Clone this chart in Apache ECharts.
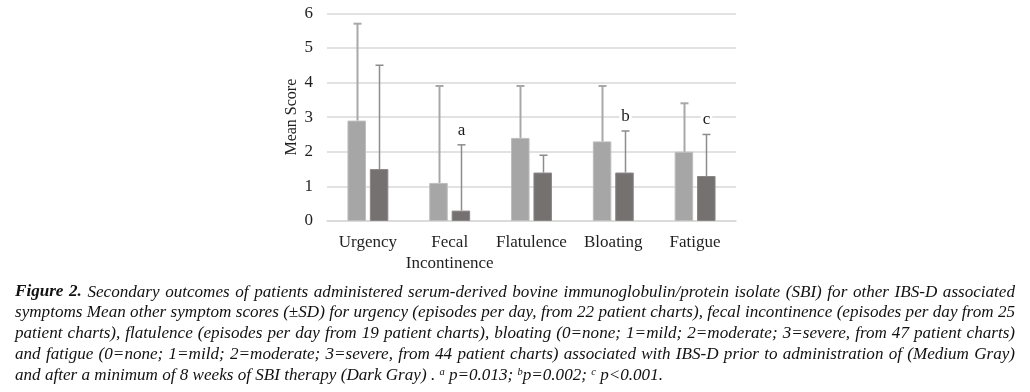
<!DOCTYPE html>
<html>
<head>
<meta charset="utf-8">
<script src="https://cdn.jsdelivr.net/npm/echarts@6/dist/echarts.min.js"></script>
<style>
html,body{margin:0;padding:0;background:#fff;}
#chart{width:1030px;height:392px;}
</style>
</head>
<body>
<div id="chart"></div>
<script>
const categories = ['Urgency', 'Fecal\nIncontinence', 'Flatulence', 'Bloating', 'Fatigue'];
const beforeMean = [2.9, 1.1, 2.4, 2.3, 2.0];
const beforeTop = [5.7, 3.9, 3.9, 3.9, 3.4];
const afterMean = [1.5, 0.3, 1.4, 1.4, 1.3];
const afterTop = [4.5, 2.2, 1.9, 2.6, 2.5];
const annotations = ['', 'a', '', 'b', 'c'];
const yTicks = [0, 1, 2, 3, 4, 5, 6];

const captionJustified = [
  'Figure 2. Secondary outcomes of patients administered serum-derived bovine immunoglobulin/protein isolate (SBI) for other IBS-D associated',
  'symptoms Mean other symptom scores (±SD) for urgency (episodes per day, from 22 patient charts), fecal incontinence (episodes per day from 25',
  'patient charts), flatulence (episodes per day from 19 patient charts), bloating (0=none; 1=mild; 2=moderate; 3=severe, from 47 patient charts)',
  'and fatigue (0=none; 1=mild; 2=moderate; 3=severe, from 44 patient charts) associated with IBS-D prior to administration of (Medium Gray)'
];
const captionLast = 'and after a minimum of 8 weeks of SBI therapy (Dark Gray) . {s|a} p=0.013; {s|b}p=0.002; {s|c} p<0.001.';
const boldWords = 2;

const BAR_W = 18.5;
const OFFSET = 11.2;
const serif = '"Liberation Serif", "Times New Roman", serif';
const CAP_SIZE = 17.1;
const CAP_LEFT = 15, CAP_RIGHT = 1015, CAP_TOP = 292, CAP_LH = 20.8;

function errSeries(name, mean, top, sign, color, lw, labels) {
  return {
    type: 'custom',
    name: name,
    z: 5,
    data: mean.map((m, i) => [i, m, top[i]]),
    renderItem: function (params, api) {
      const i = api.value(0);
      const base = api.coord([i, api.value(1)]);
      const tp = api.coord([i, api.value(2)]);
      const x = Math.round(base[0] + sign * OFFSET) + 0.5;
      const children = [
        {type: 'line', shape: {x1: x, y1: base[1], x2: x, y2: tp[1]}, style: {stroke: color, lineWidth: lw}},
        {type: 'line', shape: {x1: x - 4, y1: tp[1], x2: x + 4, y2: tp[1]}, style: {stroke: color, lineWidth: lw}}
      ];
      if (labels && labels[params.dataIndex]) {
        children.push({type: 'text', x: x, y: tp[1] - 6, style: {
          text: labels[params.dataIndex], fill: '#1a1a1a', font: '17px ' + serif,
          align: 'center', verticalAlign: 'bottom', backgroundColor: '#fff', padding: [0, 2]
        }});
      }
      return {type: 'group', children: children};
    }
  };
}

// Justified caption: measure words, distribute spacing
const mctx = document.createElement('canvas').getContext('2d');
function fontFor(bold) { return 'italic ' + (bold ? 'bold ' : '') + CAP_SIZE + 'px ' + serif; }
const graphics = [];
captionJustified.forEach((line, k) => {
  const words = line.split(' ');
  const widths = words.map((w, j) => {
    const bold = (k === 0 && j < boldWords);
    mctx.font = fontFor(bold);
    return mctx.measureText(w).width;
  });
  const total = widths.reduce((a, b) => a + b, 0);
  const gap = (CAP_RIGHT - CAP_LEFT - total) / (words.length - 1);
  let x = CAP_LEFT;
  words.forEach((w, j) => {
    const bold = (k === 0 && j < boldWords);
    graphics.push({
      type: 'text', x: x, y: CAP_TOP + k * CAP_LH,
      style: {text: w, font: fontFor(bold), fill: '#111', verticalAlign: 'middle'}
    });
    x += widths[j] + gap;
  });
});
graphics.push({
  type: 'text', x: CAP_LEFT, y: CAP_TOP + 4 * CAP_LH,
  style: {
    text: captionLast, font: fontFor(false), fill: '#111', verticalAlign: 'middle',
    rich: {s: {fontSize: 10.5, fontStyle: 'italic', fontFamily: serif, fill: '#111', verticalAlign: 'top'}}
  }
});

const chart = echarts.init(document.getElementById('chart'));
chart.setOption({
  animation: false,
  backgroundColor: '#fff',
  grid: {left: 327, right: 294, top: 13.3, bottom: 171, containLabel: false},
  xAxis: {
    type: 'category',
    data: categories,
    axisLine: {show: true, lineStyle: {color: '#d9d9d9', width: 1.5}},
    axisTick: {show: false},
    axisLabel: {color: '#1f1f1f', fontFamily: serif, fontSize: 17, margin: 11, lineHeight: 21, interval: 0}
  },
  yAxis: {
    type: 'value',
    min: yTicks[0], max: yTicks[yTicks.length - 1], interval: 1,
    name: 'Mean Score',
    nameLocation: 'middle',
    nameGap: 27,
    nameRotate: 90,
    nameTextStyle: {color: '#1f1f1f', fontFamily: serif, fontSize: 16},
    axisLine: {show: false},
    axisTick: {show: false},
    axisLabel: {color: '#1f1f1f', fontFamily: serif, fontSize: 17, margin: 14},
    splitLine: {lineStyle: {color: '#d9d9d9', width: 1.5}}
  },
  series: [
    {type: 'bar', name: 'Before', data: beforeMean, barWidth: BAR_W, barGap: '21%',
     itemStyle: {color: '#a6a6a6', borderColor: '#bdbdbd', borderWidth: 1}},
    {type: 'bar', name: 'After', data: afterMean, barWidth: BAR_W,
     itemStyle: {color: '#767171', borderColor: '#8a8686', borderWidth: 1}},
    errSeries('BeforeErr', beforeMean, beforeTop, -1, '#a8a8a8', 2, null),
    errSeries('AfterErr', afterMean, afterTop, 1, '#8c8c8c', 1.5, annotations)
  ],
  graphic: graphics
});
</script>
</body>
</html>
